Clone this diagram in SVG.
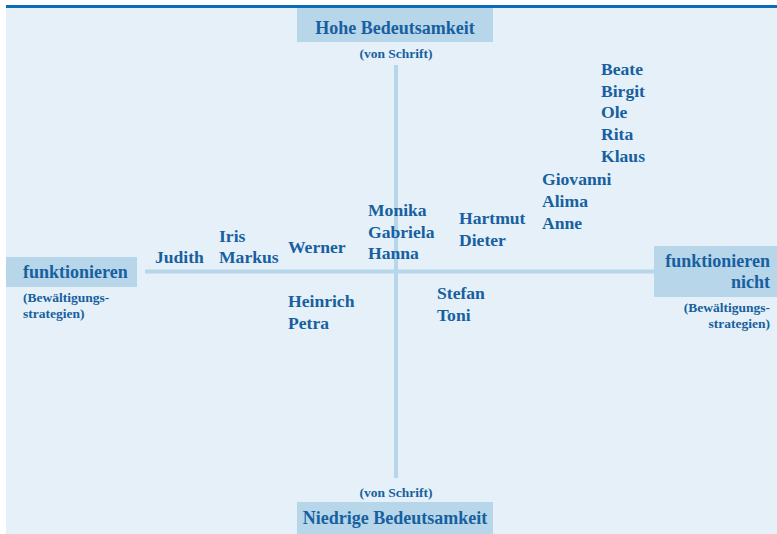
<svg xmlns="http://www.w3.org/2000/svg" width="777" height="534" viewBox="0 0 777 534">
<style>
.t{font-family:"Liberation Serif","Times New Roman",serif;font-weight:bold;fill:#17609f}
.big{font-size:18px}
.sm{font-size:13.5px}
.nm{font-size:17.6px}
.box{fill:#b7d6ea}
.ax{stroke:#b7d6ea;stroke-width:4;fill:none}
</style>
<rect x="0" y="0" width="777" height="534" fill="#ffffff"/>
<rect x="6" y="8" width="771" height="526" fill="#e5f0f8"/>
<rect x="6" y="5" width="771" height="3" fill="#0b6db6"/>
<g id="connectors">
<line class="ax" x1="396" y1="65" x2="396" y2="478"/>
<line class="ax" x1="145" y1="271.5" x2="654" y2="271.5"/>
</g>
<g id="top">
<rect class="box" x="297" y="8" width="196" height="34"/>
<text class="t big" x="395" y="34" text-anchor="middle">Hohe Bedeutsamkeit</text>
<text class="t sm" x="396" y="58" text-anchor="middle">(von Schrift)</text>
</g>
<g id="bottom">
<text class="t sm" x="396" y="497" text-anchor="middle">(von Schrift)</text>
<rect class="box" x="297" y="502" width="196" height="32"/>
<text class="t big" x="395" y="524" text-anchor="middle">Niedrige Bedeutsamkeit</text>
</g>
<g id="left">
<rect class="box" x="6" y="257" width="131" height="30"/>
<text class="t big" x="23" y="278">funktionieren</text>
<text class="t sm" x="23" y="302">(Bewältigungs-</text>
<text class="t sm" x="23" y="318">strategien)</text>
</g>
<g id="right">
<rect class="box" x="654" y="246" width="123" height="51"/>
<text class="t big" x="770" y="267" text-anchor="end">funktionieren</text>
<text class="t big" x="770" y="288" text-anchor="end">nicht</text>
<text class="t sm" x="770" y="312" text-anchor="end">(Bewältigungs-</text>
<text class="t sm" x="770" y="328" text-anchor="end">strategien)</text>
</g>
<g id="judith"><text class="t nm" x="155" y="263">Judith</text></g>
<g id="iris-markus"><text class="t nm" x="219" y="242">Iris</text><text class="t nm" x="219" y="263">Markus</text></g>
<g id="werner"><text class="t nm" x="288" y="253">Werner</text></g>
<g id="monika"><text class="t nm" x="368" y="216">Monika</text><text class="t nm" x="368" y="238">Gabriela</text><text class="t nm" x="368" y="259">Hanna</text></g>
<g id="heinrich"><text class="t nm" x="288" y="307">Heinrich</text><text class="t nm" x="288" y="329">Petra</text></g>
<g id="stefan"><text class="t nm" x="437" y="299">Stefan</text><text class="t nm" x="437" y="321">Toni</text></g>
<g id="hartmut"><text class="t nm" x="459" y="224">Hartmut</text><text class="t nm" x="459" y="246">Dieter</text></g>
<g id="giovanni"><text class="t nm" x="542" y="185">Giovanni</text><text class="t nm" x="542" y="207">Alima</text><text class="t nm" x="542" y="229">Anne</text></g>
<g id="beate"><text class="t nm" x="601" y="75">Beate</text><text class="t nm" x="601" y="97">Birgit</text><text class="t nm" x="601" y="118">Ole</text><text class="t nm" x="601" y="140">Rita</text><text class="t nm" x="601" y="162">Klaus</text></g>
</svg>
